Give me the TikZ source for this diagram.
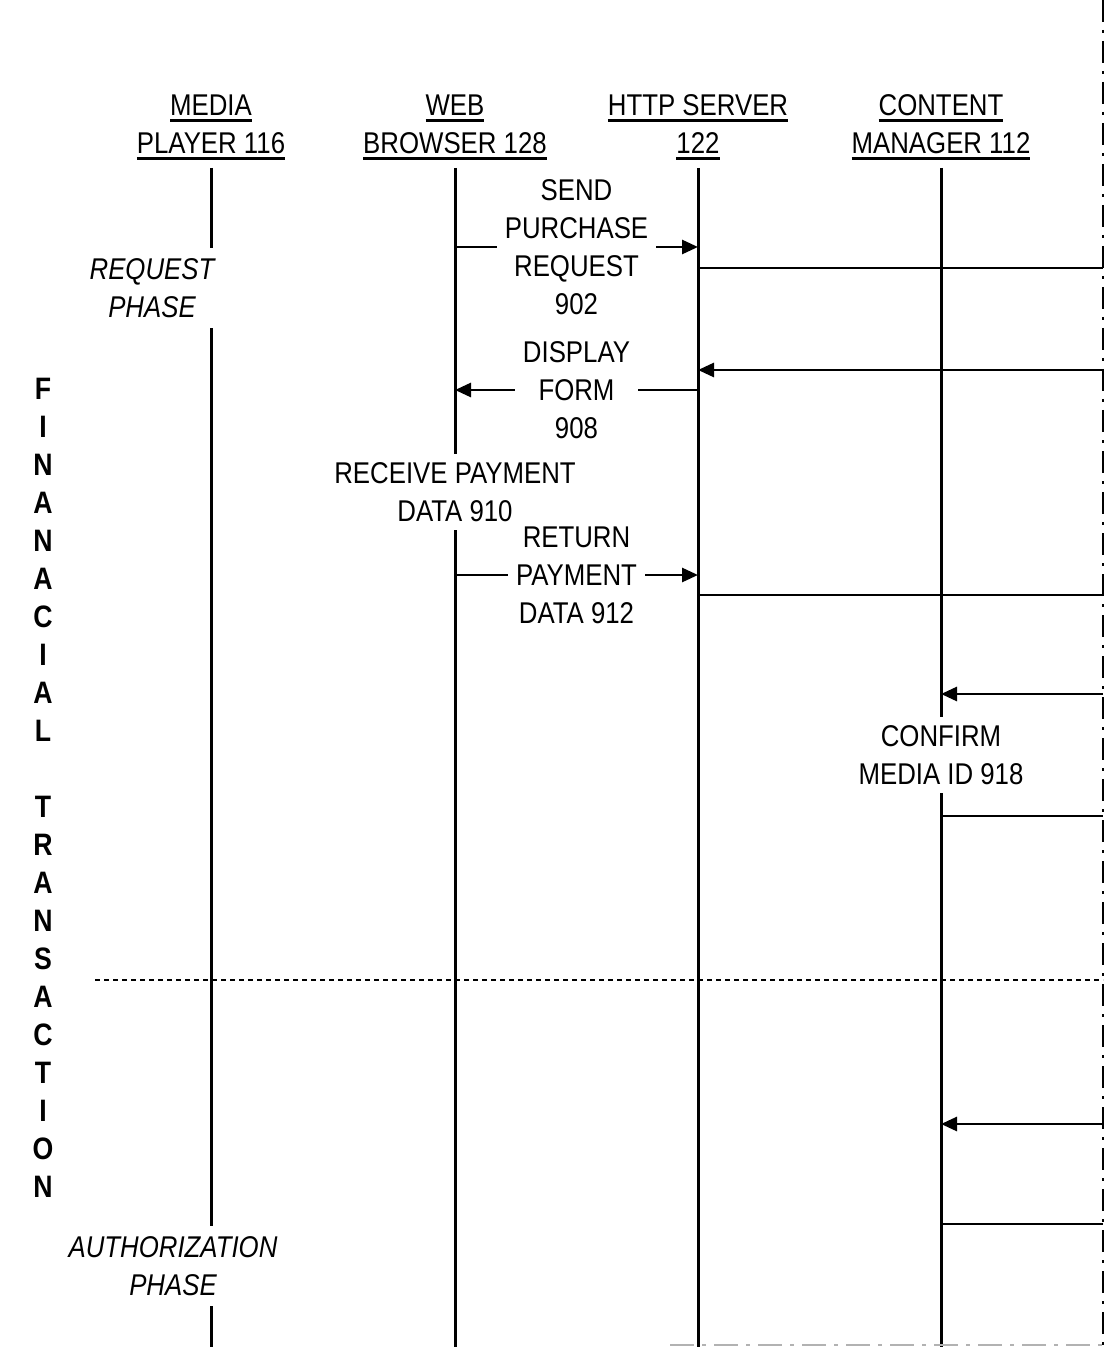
\documentclass[tikz,border=0pt]{standalone}
\usepackage{fontspec}
\setmainfont{Liberation Sans}[FakeStretch=0.86]
\usetikzlibrary{arrows.meta}
\newcommand\ulx[1]{\setbox0\hbox{#1}\leavevmode\rlap{\rule[-3.2pt]{\wd0}{1.1pt}}\box0}
\begin{document}
\begin{tikzpicture}[x=0.5pt,y=-0.5pt,
  every node/.style={font=\fontsize{15}{19}\selectfont, align=center, inner sep=4pt},
  life/.style={line width=1.5pt},
  msg/.style={line width=1.4pt},
  arr/.style={line width=1.4pt,-{Triangle[length=8pt,width=7pt]}},
  lbl/.style={fill=white, inner xsep=4pt, inner ysep=2pt},
  phase/.style={font=\fontsize{15}{19}\selectfont\itshape, inner ysep=5pt},
  edge/.style={line width=1.2pt, dash pattern=on 11pt off 4pt on 1.5pt off 4pt},
]
\useasboundingbox (0,0) rectangle (1107,1347);

% headers
\node (hmp) at (211,127) {\ulx{MEDIA}\\\ulx{PLAYER 116}};
\node (hwb) at (455,127) {\ulx{WEB}\\\ulx{BROWSER 128}};
\node (hhs) at (698,127) {\ulx{HTTP SERVER}\\\ulx{122}};
\node (hcm) at (941,127) {\ulx{CONTENT}\\\ulx{MANAGER 112}};

% lifeline end points
\coordinate (mpT) at (211,168); \coordinate (mpB) at (211,1347);
\coordinate (wbT) at (455,168); \coordinate (wbB) at (455,1347);
\coordinate (hsT) at (698,168); \coordinate (hsB) at (698,1347);
\coordinate (cmT) at (941,168); \coordinate (cmB) at (941,1347);

% side labels
\node[phase] (req) at (152,288) {REQUEST\\PHASE};
\node[phase] (auth) at (173,1266) {AUTHORIZATION\\PHASE};
\node (recv) at (455,492) {RECEIVE PAYMENT\\DATA 910};
\node (conf) at (941,755) {CONFIRM\\MEDIA ID 918};

% lifelines
\draw[life] (mpT) -- (req.north -| mpT);
\draw[life] (req.south -| mpT) -- (auth.north -| mpT);
\draw[life] (auth.south -| mpT) -- (mpB);
\draw[life] (wbT) -- (recv.north);
\draw[life] (recv.south) -- (wbB);
\draw[life] (hsT) -- (hsB);
\draw[life] (cmT) -- (conf.north);
\draw[life] (conf.south) -- (cmB);

% right edge
\coordinate (rT) at (1103,0); \coordinate (rB) at (1103,1347);
\draw[edge] (rT) -- (rB);
\coordinate (bL) at (670,1345); \coordinate (bR) at (1107,1345);
\draw[gray!60, line width=0.8pt, dash pattern=on 12pt off 4pt on 2pt off 4pt] (bL) -- (bR);

% messages web browser <-> http server
\coordinate (m1a) at (455,247); \coordinate (m1b) at (698,247);
\draw[arr] (m1a) -- node[lbl] (l902) {SEND\\PURCHASE\\REQUEST\\902} (m1b);
\coordinate (m2a) at (698,390); \coordinate (m2b) at (455,390);
\draw[arr] (m2a) -- node[lbl] (l908) {DISPLAY\\FORM\\908} (m2b);
\coordinate (m3a) at (455,575); \coordinate (m3b) at (698,575);
\draw[arr] (m3a) -- node[lbl] (l912) {RETURN\\PAYMENT\\DATA 912} (m3b);

% messages to/from right edge
\coordinate (h268) at (698,268); \coordinate (r268) at (1103,268);
\draw[msg] (h268) -- (r268);
\coordinate (r370) at (1103,370); \coordinate (h370) at (698,370);
\draw[arr] (r370) -- (h370);
\coordinate (h595) at (698,595); \coordinate (r595) at (1103,595);
\draw[msg] (h595) -- (r595);
\coordinate (r694) at (1103,694); \coordinate (c694) at (941,694);
\draw[arr] (r694) -- (c694);
\coordinate (c816) at (941,816); \coordinate (r816) at (1103,816);
\draw[msg] (c816) -- (r816);
\coordinate (r1124) at (1103,1124); \coordinate (c1124) at (941,1124);
\draw[arr] (r1124) -- (c1124);
\coordinate (c1224) at (941,1224); \coordinate (r1224) at (1103,1224);
\draw[msg] (c1224) -- (r1224);

% phase separator
\coordinate (dL) at (95,980); \coordinate (dR) at (1103,980);
\draw[line width=1.1pt, dash pattern=on 2.5pt off 2pt] (dL) -- (dR);

% vertical title
\node[font=\fontsize{15.5}{19}\selectfont\bfseries] (title) at (43,788)
  {F\\I\\N\\A\\N\\A\\C\\I\\A\\L\\[19pt]T\\R\\A\\N\\S\\A\\C\\T\\I\\O\\N};
\end{tikzpicture}
\end{document}
